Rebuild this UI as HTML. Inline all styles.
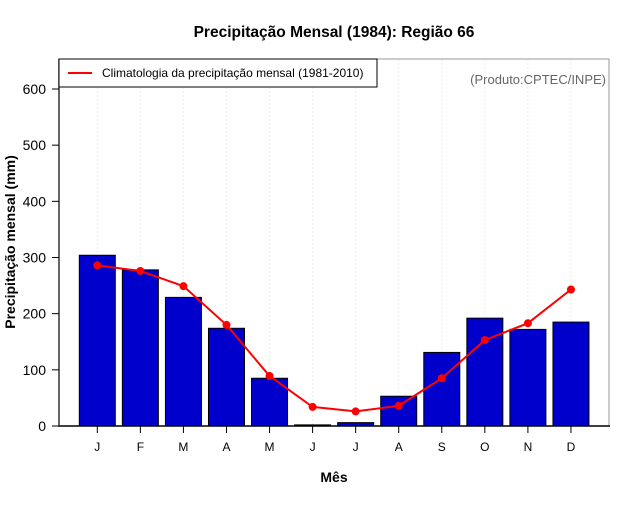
<!DOCTYPE html>
<html><head><meta charset="utf-8"><style>
body{margin:0;background:#fff;}
svg text{font-family:"Liberation Sans",Arial,sans-serif;}
</style></head><body>
<svg id="chart" width="640" height="500" viewBox="0 0 640 500">
<text x="334" y="37" font-size="15.5" font-weight="bold" text-anchor="middle">Precipitação Mensal (1984): Região 66</text>
<text x="334" y="482" font-size="14" font-weight="bold" text-anchor="middle">Mês</text>
<text transform="translate(15,242) rotate(-90)" font-size="14" font-weight="bold" text-anchor="middle">Precipitação mensal (mm)</text>
<g id="grid"></g><g id="bars"></g><g id="line"></g><g id="axes"></g>
<rect x="59" y="59" width="318" height="28" fill="#fff" stroke="#000"/>
<line x1="68" y1="73" x2="92" y2="73" stroke="red" stroke-width="2"/>
<text x="102" y="77" font-size="12">Climatologia da precipitação mensal (1981-2010)</text>
<text x="606" y="84" font-size="13" fill="#666" text-anchor="end">(Produto:CPTEC/INPE)</text>
</svg>
<script>
const months=["J","F","M","A","M","J","J","A","S","O","N","D"];
const observed=[304,278,229,174,85,2,6,53,131,192,172,185];
const climatology=[286,276,249,180,89,34,26,36,85,153,183,243];
const yTicks=[0,100,200,300,400,500,600];
const NS="http://www.w3.org/2000/svg";
const xs=i=>97.3+i*43.06;
const ys=v=>426-v*(337/600);
function mk(t,a,p){const e=document.createElementNS(NS,t);for(const k in a)e.setAttribute(k,a[k]);p.appendChild(e);return e;}
const grid=document.getElementById('grid'),bars=document.getElementById('bars'),line=document.getElementById('line'),axes=document.getElementById('axes');
months.forEach((m,i)=>{
  const g=mk('line',{x1:xs(i),x2:xs(i),y1:59,y2:426,stroke:'#ececec','stroke-dasharray':'2,2'},grid);
  
  
  const b=mk('rect',{x:xs(i)-18,y:ys(observed[i]),width:36,height:426-ys(observed[i]),fill:'#0000cc',stroke:'#000','stroke-width':1},bars);
  
  
  const t=mk('line',{x1:xs(i),x2:xs(i),y1:426,y2:433,stroke:'#000'},axes);
  
  
  const l=mk('text',{x:xs(i),y:451,'font-size':12,'text-anchor':'middle'},axes);
  l.textContent=m;
  
  
});
const pl=mk('polyline',{points:climatology.map((v,i)=>xs(i)+','+ys(v)).join(' '),fill:'none',stroke:'red','stroke-width':2},line);


climatology.forEach((v,i)=>{
  const c=mk('circle',{cx:xs(i),cy:ys(v),r:4,fill:'red'},line);
  
  
});
const f=mk('path',{d:'M59 426 L59 59 L609 59 L609 426',fill:'none',stroke:'#999'},axes);


const xa=mk('line',{x1:59,x2:610,y1:426,y2:426,stroke:'#000','stroke-width':1.5},axes);


const ya=mk('line',{x1:59,x2:59,y1:59,y2:427,stroke:'#333','stroke-width':1.5},axes);


yTicks.forEach(v=>{
  const t=mk('line',{x1:52,x2:59,y1:ys(v),y2:ys(v),stroke:'#000'},axes);
  
  
  const l=mk('text',{x:46,y:ys(v)+5,'font-size':14,'text-anchor':'end'},axes);
  l.textContent=v;
  
  
});
</script>
</body></html>
